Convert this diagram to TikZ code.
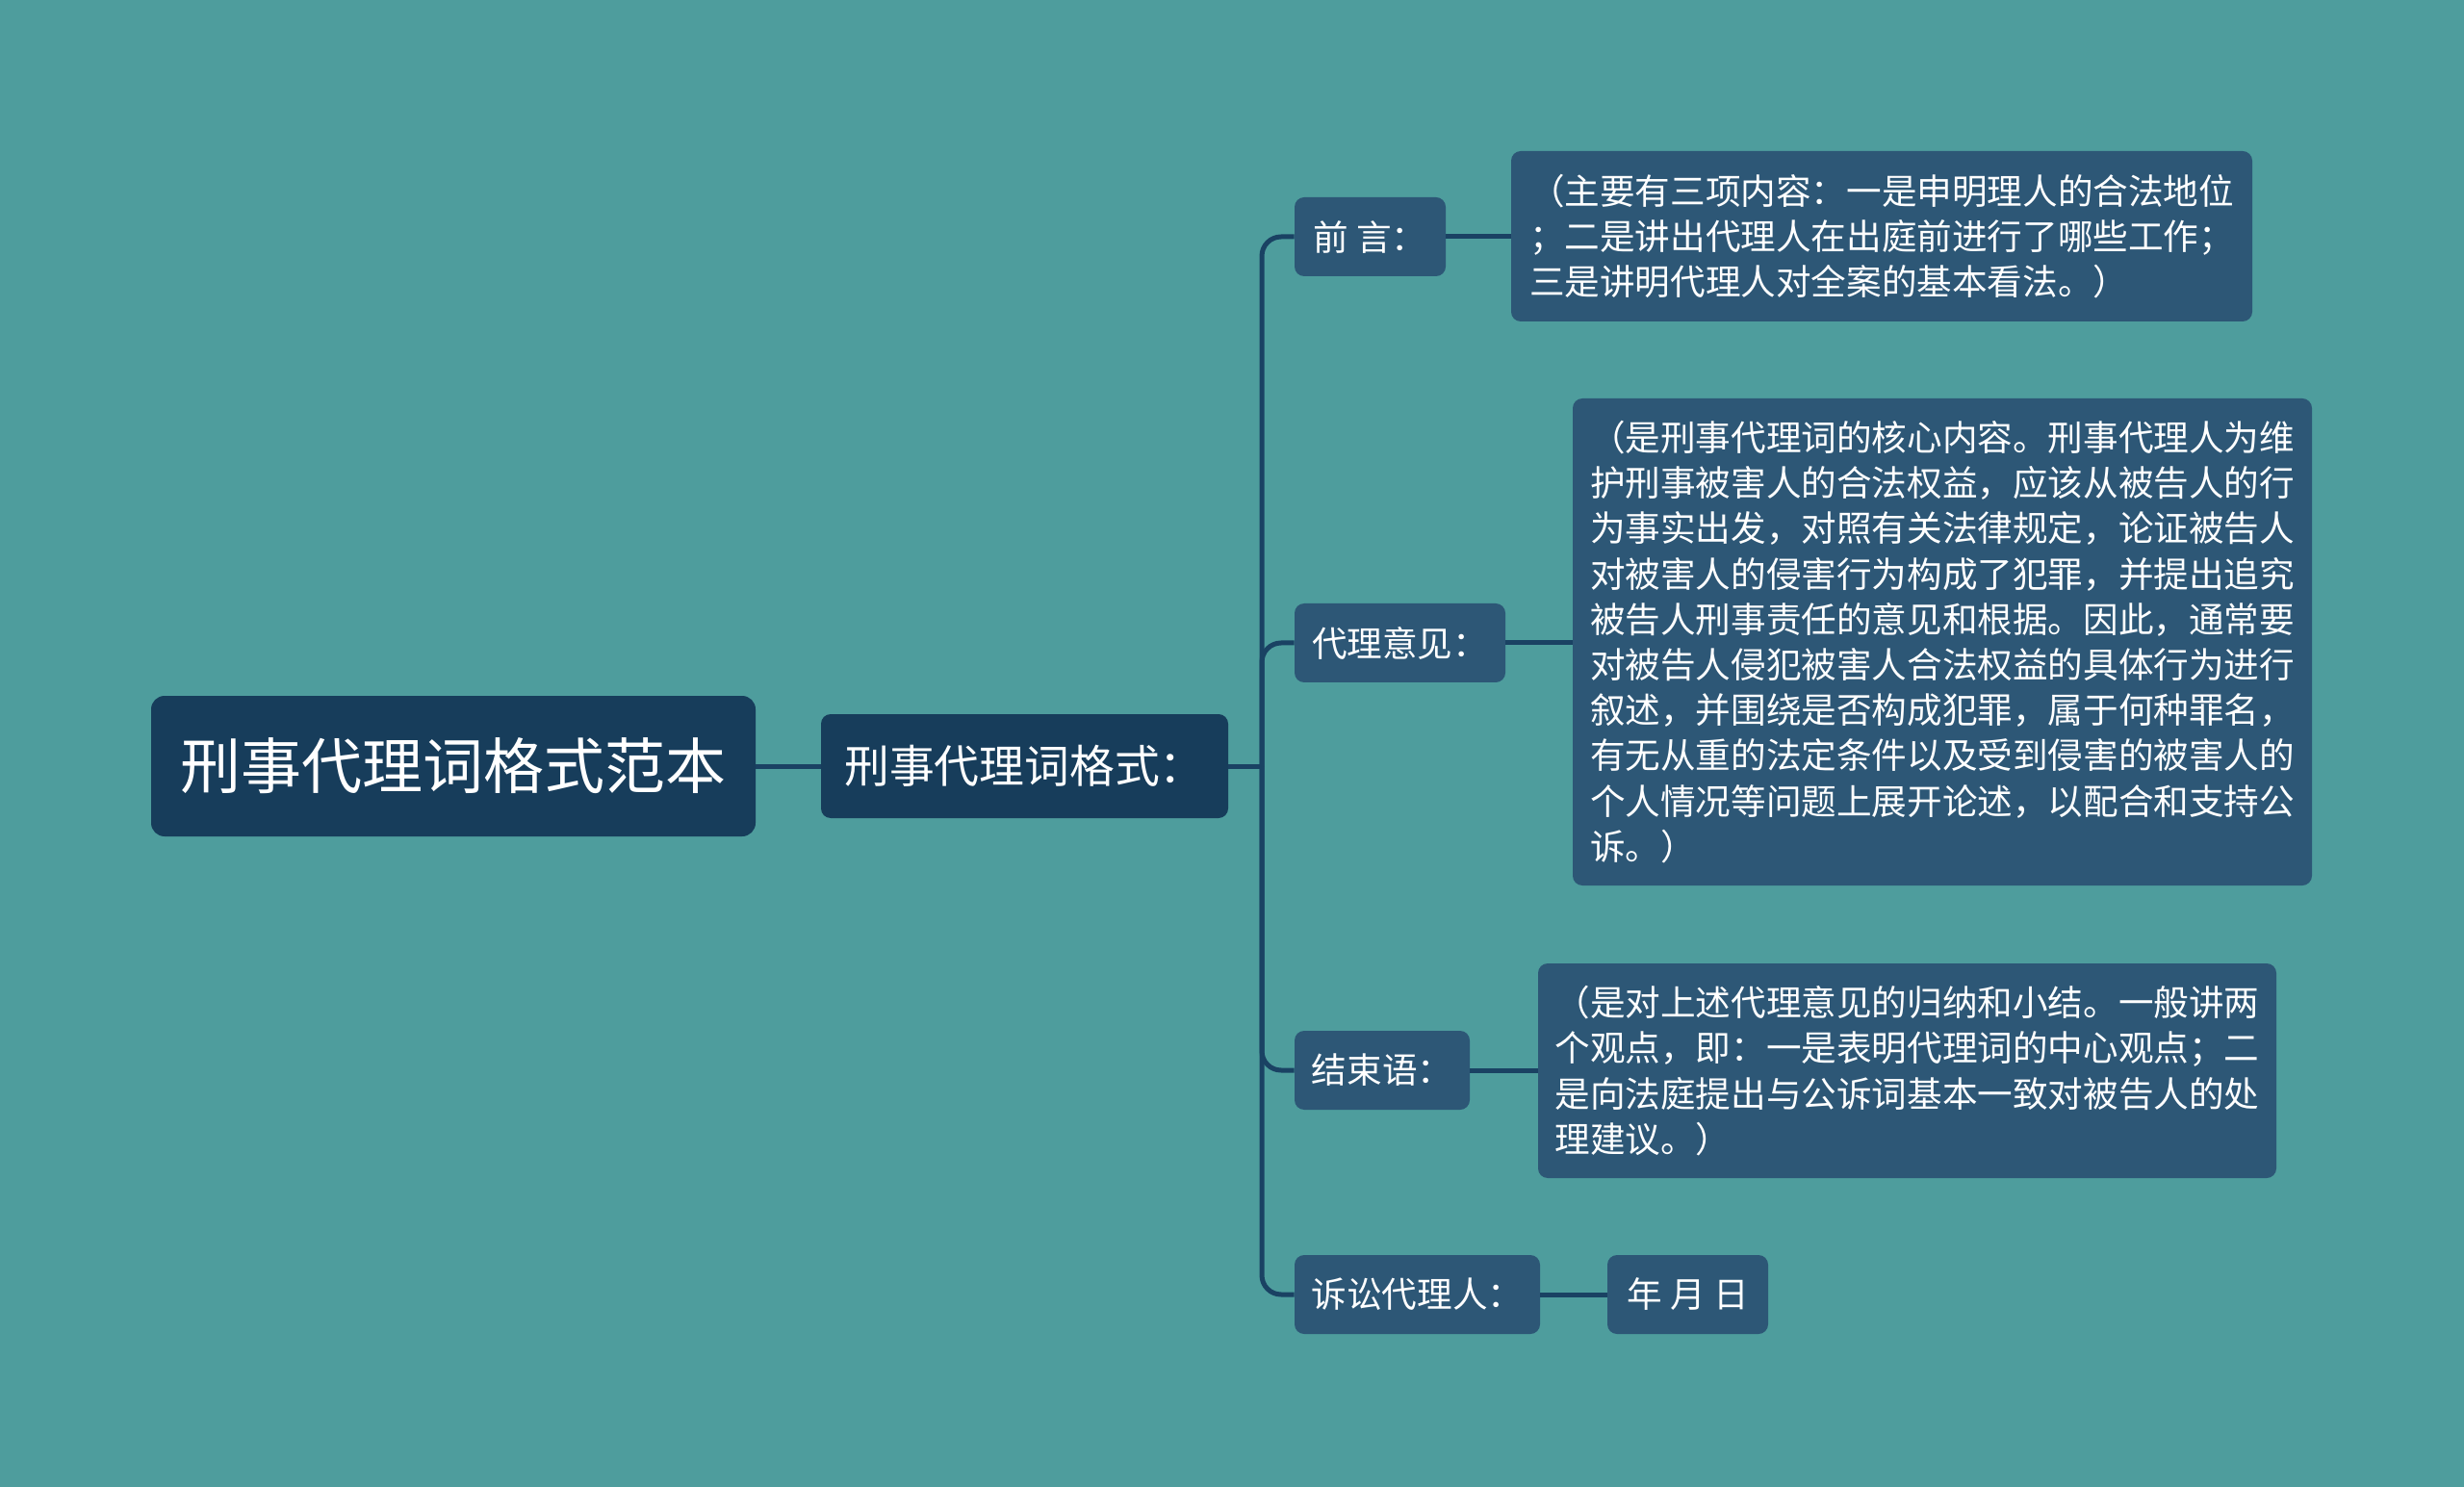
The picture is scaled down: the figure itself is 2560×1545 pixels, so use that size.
\documentclass[tikz,border=0pt]{standalone}
\usepackage{fontspec}
\setmainfont{Noto Sans CJK SC}
\definecolor{bgc}{HTML}{4E9D9D}
\definecolor{rootc}{HTML}{173D5B}
\definecolor{subc}{HTML}{2D5776}
\definecolor{linec}{HTML}{1A4263}
\begin{document}
\begin{tikzpicture}[x=0.5pt,y=-0.5pt,
  box/.style={rounded corners=5pt, inner sep=0pt, text=white, align=left, font=\fontsize{18.3}{23.6}\selectfont},
  rootbox/.style={box, fill=rootc, font=\fontsize{31.5}{36}\selectfont, rounded corners=7pt},
  lonebox/.style={box, fill=rootc, font=\fontsize{23.4}{28}\selectfont},
  ltwobox/.style={box, fill=subc},
  leafbox/.style={box, fill=subc},
  conn/.style={line width=2.5pt, draw=linec, rounded corners=10pt}]
\fill[bgc] (0,0) rectangle (2560,1545);
\useasboundingbox (0,0) rectangle (2560,1545);

\node[rootbox, minimum width=314pt, minimum height=73pt] (root) at (471,796) {刑事代理词格式范本};
\node[lonebox, minimum width=211.5pt, minimum height=54pt] (l1) at (1064.5,796) {刑事代理词格式：};

\node[ltwobox, minimum width=78.5pt, minimum height=41pt] (a) at (1423.5,246) {前 言：};
\node[ltwobox, minimum width=109.5pt, minimum height=41pt] (b) at (1454.5,668) {代理意见：};
\node[ltwobox, minimum width=91pt, minimum height=41pt] (c) at (1436,1112) {结束语：};
\node[ltwobox, minimum width=127.5pt, minimum height=41pt] (d) at (1472.5,1345) {诉讼代理人：};

\node[leafbox, minimum width=385pt, minimum height=88.5pt] (aa) at (1955,245.5) {（主要有三项内容：一是申明理人的合法地位\\；二是讲出代理人在出庭前进行了哪些工作；\\三是讲明代理人对全案的基本看法。）};
\node[leafbox, minimum width=384pt, minimum height=253pt] (bb) at (2018,667) {（是刑事代理词的核心内容。刑事代理人为维\\护刑事被害人的合法权益，应该从被告人的行\\为事实出发，对照有关法律规定，论证被告人\\对被害人的侵害行为构成了犯罪，并提出追究\\被告人刑事责任的意见和根据。因此，通常要\\对被告人侵犯被害人合法权益的具体行为进行\\叙述，并围绕是否构成犯罪，属于何种罪名，\\有无从重的法定条件以及受到侵害的被害人的\\个人情况等问题上展开论述，以配合和支持公\\诉。）};
\node[leafbox, minimum width=383.5pt, minimum height=111.5pt] (cc) at (1981.5,1112.5) {（是对上述代理意见的归纳和小结。一般讲两\\个观点，即：一是表明代理词的中心观点；二\\是向法庭提出与公诉词基本一致对被告人的处\\理建议。）};
\node[leafbox, minimum width=83.5pt, minimum height=41pt] (dd) at (1753.5,1345) {年 月 日};

\coordinate (j) at (1311,796);
\draw[conn] (root.east) -- (l1.west);
\draw[conn] (l1.east) -- (j);
\draw[conn] (j) |- (a.west);
\draw[conn] (j) |- (b.west);
\draw[conn] (j) |- (c.west);
\draw[conn] (j) |- (d.west);
\draw[conn] (a.east) -- (a.east -| aa.west);
\draw[conn] (b.east) -- (b.east -| bb.west);
\draw[conn] (c.east) -- (c.east -| cc.west);
\draw[conn] (d.east) -- (d.east -| dd.west);
\end{tikzpicture}
\end{document}
